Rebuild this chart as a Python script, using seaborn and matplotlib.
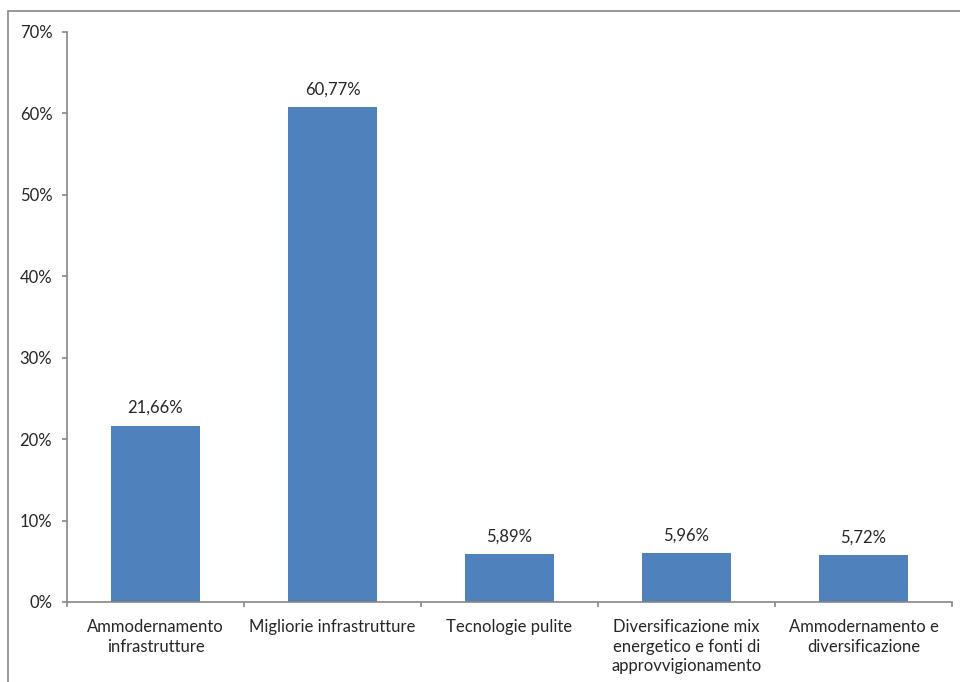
import matplotlib
matplotlib.use("Agg")
import matplotlib.pyplot as plt
import seaborn as sns
import pandas as pd
import numpy as np
from matplotlib.ticker import FixedLocator, PercentFormatter

categories = [
    "Ammodernamento\ninfrastrutture",
    "Migliorie infrastrutture",
    "Tecnologie pulite",
    "Diversificazione mix\nenergetico e fonti di\napprovvigionamento",
    "Ammodernamento e\ndiversificazione",
]
values = [21.66, 60.77, 5.89, 5.96, 5.72]
value_labels = ["21,66%", "60,77%", "5,89%", "5,96%", "5,72%"]
y_ticks = [0, 10, 20, 30, 40, 50, 60, 70]

sns.set_style("white")
plt.rcParams["font.family"] = ["Lato", "DejaVu Sans"]

df = pd.DataFrame({"cat": categories, "val": values})

fig = plt.figure(figsize=(9.6, 6.82), dpi=100)
ax = fig.add_axes([67/960, 1-602/682, (952-67)/960, (602-32)/682])

sns.barplot(data=df, x="cat", y="val", color="#4F81BD", width=0.5, ax=ax,
            saturation=1, edgecolor="none")

ax.set_xlim(-0.5, len(categories) - 0.5)
ax.set_ylim(0, 70)
ax.set_yticks(y_ticks)
ax.yaxis.set_major_formatter(PercentFormatter(decimals=0))
ax.set_xlabel("")
ax.set_ylabel("")

gray = "#868686"
txt = "#262626"
fs = 12
for s in ["top", "right"]:
    ax.spines[s].set_visible(False)
for s in ["left", "bottom"]:
    ax.spines[s].set_color(gray)
    ax.spines[s].set_linewidth(1.2)

ax.tick_params(axis="y", direction="out", length=3.6, width=1.2, color=gray,
               labelsize=fs, labelcolor=txt, pad=7, left=True)
ax.tick_params(axis="x", which="major", length=0, labelsize=fs, labelcolor=txt, pad=12)
ax.xaxis.set_minor_locator(FixedLocator(np.arange(-0.5, len(categories), 1.0)))
ax.tick_params(axis="x", which="minor", direction="out", length=3.6, width=1.2, color=gray, bottom=True)
for lab in ax.get_xticklabels():
    lab.set_horizontalalignment("center")
    lab.set_multialignment("center")
    lab.set_linespacing(1.3)

for i, (v, lbl) in enumerate(zip(values, value_labels)):
    ax.annotate(lbl, (i, v), xytext=(0, 7), textcoords="offset points",
                ha="center", va="bottom", fontsize=fs, color=txt)

# outer frame
fig.patches.append(plt.Rectangle((8/960, -0.1), 1.2, 1 - 11/682 + 0.1,
                                 transform=fig.transFigure, fill=False,
                                 edgecolor=gray, linewidth=1.2))

fig.savefig("out.png", dpi=100)
